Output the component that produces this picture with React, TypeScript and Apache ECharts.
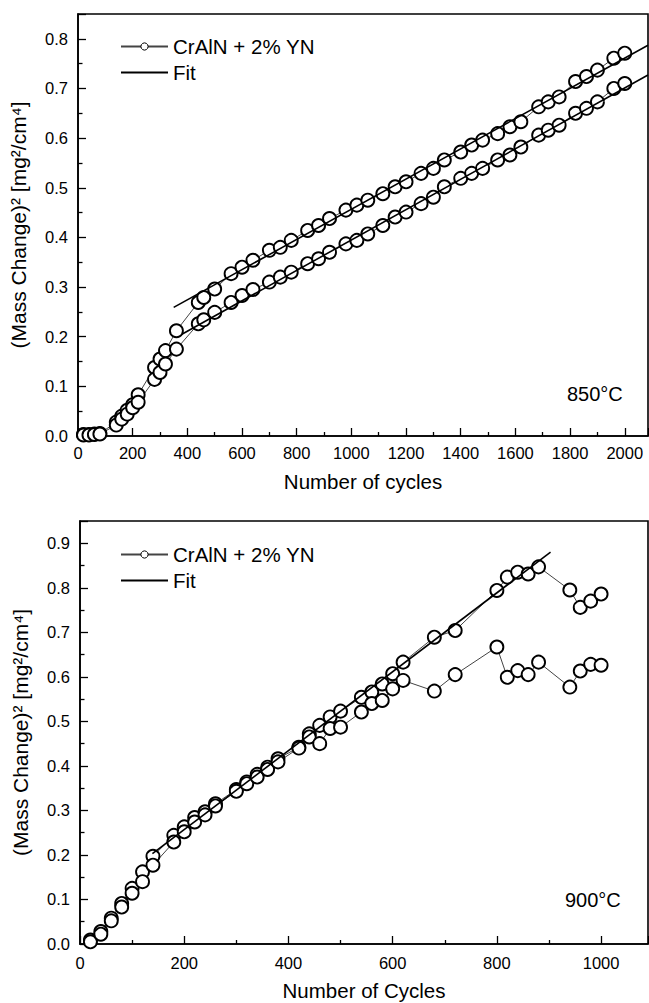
import React, { useEffect, useRef } from 'react';
import * as echarts from 'echarts';

const FONT = '"Liberation Sans", Arial, Helvetica, sans-serif';
const DATA_NAME = 'CrAlN + 2% YN';
const FIT_NAME = 'Fit';

// 850 °C panel
const topCycles = [20, 40, 60, 80, 140, 160, 180, 200, 220, 280, 300, 320, 360, 440, 460, 500, 560, 600, 640, 700, 740, 780, 840, 880, 920, 980, 1020, 1060, 1115, 1160, 1200, 1255, 1300, 1340, 1400, 1440, 1480, 1535, 1580, 1620, 1685, 1720, 1760, 1820, 1860, 1900, 1960, 2000];
const topUpper = [0.003, 0.003, 0.004, 0.005, 0.028, 0.040, 0.052, 0.063, 0.083, 0.138, 0.155, 0.172, 0.212, 0.269, 0.279, 0.296, 0.327, 0.340, 0.354, 0.374, 0.380, 0.394, 0.414, 0.424, 0.438, 0.455, 0.465, 0.475, 0.488, 0.502, 0.512, 0.529, 0.539, 0.556, 0.572, 0.586, 0.596, 0.609, 0.623, 0.633, 0.663, 0.673, 0.683, 0.714, 0.724, 0.737, 0.761, 0.771];
const topLower = [0.002, 0.002, 0.003, 0.004, 0.022, 0.034, 0.044, 0.057, 0.068, 0.114, 0.128, 0.145, 0.175, 0.226, 0.234, 0.249, 0.269, 0.283, 0.295, 0.310, 0.320, 0.330, 0.347, 0.357, 0.370, 0.387, 0.394, 0.407, 0.424, 0.441, 0.451, 0.468, 0.481, 0.502, 0.519, 0.529, 0.539, 0.556, 0.566, 0.582, 0.606, 0.616, 0.626, 0.650, 0.660, 0.673, 0.700, 0.710];
const topFitUpper = [[350, 0.259], [2085, 0.787]];
const topFitLower = [[380, 0.205], [2085, 0.727]];

// 900 °C panel
const bottomCycles = [20, 40, 60, 80, 100, 120, 140, 180, 200, 220, 240, 260, 300, 320, 340, 360, 380, 420, 440, 460, 480, 500, 540, 560, 580, 600, 620, 680, 720, 800, 820, 840, 860, 880, 940, 960, 980, 1000];
const bottomUpper = [0.009, 0.028, 0.058, 0.091, 0.125, 0.162, 0.197, 0.244, 0.263, 0.284, 0.297, 0.315, 0.347, 0.364, 0.381, 0.397, 0.416, 0.442, 0.472, 0.491, 0.510, 0.523, 0.554, 0.566, 0.584, 0.607, 0.633, 0.689, 0.704, 0.794, 0.824, 0.835, 0.831, 0.847, 0.795, 0.756, 0.770, 0.786];
const bottomLower = [0.005, 0.022, 0.052, 0.083, 0.114, 0.140, 0.177, 0.229, 0.252, 0.274, 0.290, 0.310, 0.343, 0.360, 0.375, 0.392, 0.409, 0.440, 0.465, 0.450, 0.484, 0.487, 0.521, 0.540, 0.547, 0.573, 0.592, 0.568, 0.605, 0.667, 0.599, 0.614, 0.605, 0.633, 0.577, 0.613, 0.628, 0.626];
const bottomFit = [[139, 0.203], [903, 0.880]];

const zip = (xs: number[], ys: number[]) => xs.map((x, i) => [x, ys[i]]);

const dataSeries = (idx: number, xs: number[], ys: number[]) => ({
  type: 'line',
  name: DATA_NAME,
  xAxisIndex: idx,
  yAxisIndex: idx,
  data: zip(xs, ys),
  symbol: 'circle',
  symbolSize: 13,
  showAllSymbol: true,
  itemStyle: { color: '#fff', borderColor: '#000', borderWidth: 1.9 },
  lineStyle: { color: '#444', width: 1 },
  emphasis: { disabled: true },
  clip: false,
  z: 2,
});

const fitSeries = (idx: number, pts: number[][]) => ({
  type: 'line',
  name: FIT_NAME,
  xAxisIndex: idx,
  yAxisIndex: idx,
  data: pts,
  symbol: 'none',
  itemStyle: { color: '#000' },
  lineStyle: { color: '#000', width: 1.6 },
  emphasis: { disabled: true },
  z: 3,
});

const xAxisCfg = (idx: number, max: number, name: string, labelMargin: number, nameGap: number) => ({
  type: 'value',
  gridIndex: idx,
  min: 0,
  max,
  interval: 200,
  name,
  nameLocation: 'middle',
  nameGap,
  nameTextStyle: { fontFamily: FONT, fontSize: 20.5, color: '#000' },
  axisLine: { show: true, onZero: false, lineStyle: { color: '#000', width: 1.6 } },
  axisTick: { show: true, inside: true, length: 8, lineStyle: { color: '#000', width: 1.3 } },
  minorTick: { show: true, splitNumber: 2, length: 4, lineStyle: { color: '#000', width: 1.3 } },
  splitLine: { show: false },
  minorSplitLine: { show: false },
  axisLabel: {
    fontFamily: FONT, fontSize: 16.5, color: '#000', margin: labelMargin,
    showMaxLabel: false, formatter: (v: number) => String(Math.round(v)),
  },
});

const yAxisCfg = (idx: number, max: number) => ({
  type: 'value',
  gridIndex: idx,
  min: 0,
  max,
  interval: 0.1,
  name: '(Mass Change)\u00B2 [mg\u00B2/cm\u2074]',
  nameLocation: 'middle',
  nameGap: 49,
  nameTextStyle: { fontFamily: FONT, fontSize: 21, color: '#000' },
  axisLine: { show: true, onZero: false, lineStyle: { color: '#000', width: 1.6 } },
  axisTick: { show: true, inside: true, length: 8, lineStyle: { color: '#000', width: 1.3 } },
  minorTick: { show: true, splitNumber: 2, length: 4.5, lineStyle: { color: '#000', width: 1.3 } },
  splitLine: { show: false },
  minorSplitLine: { show: false },
  axisLabel: {
    fontFamily: FONT, fontSize: 16.5, color: '#000', margin: 10,
    showMaxLabel: false, formatter: (v: number) => v.toFixed(1),
  },
});

const legendCfg = (top: number) => ({
  show: true,
  orient: 'vertical',
  left: 115,
  top,
  itemWidth: 47,
  itemHeight: 9,
  itemGap: 5,
  data: [
    { name: DATA_NAME, itemStyle: { color: '#fff', borderColor: '#000', borderWidth: 1 } },
    { name: FIT_NAME, itemStyle: { color: 'transparent', borderColor: 'transparent', borderWidth: 0, opacity: 0 } },
  ],
  textStyle: { fontFamily: FONT, fontSize: 20.5, color: '#000', lineHeight: 20 },
  selectedMode: false,
});

export default function App() {
  const ref = useRef<HTMLDivElement>(null);

  useEffect(() => {
    document.body.style.margin = '0';
    if (!ref.current) return;
    const chart = echarts.init(ref.current, undefined, { renderer: 'svg' });
    const option: any = {
      animation: false,
      backgroundColor: '#fff',
      grid: [
        { left: 78, top: 14, width: 570, height: 422, show: true, borderColor: '#000', borderWidth: 1.6, containLabel: false, outerBoundsMode: 'none' },
        { left: 80, top: 521, width: 568, height: 423, show: true, borderColor: '#000', borderWidth: 1.6, containLabel: false, outerBoundsMode: 'none' },
      ],
      xAxis: [
        xAxisCfg(0, 2085, 'Number of cycles', 8, 35),
        xAxisCfg(1, 1090, 'Number of Cycles', 10, 36),
      ],
      yAxis: [yAxisCfg(0, 0.85), yAxisCfg(1, 0.95)],
      legend: [legendCfg(31), legendCfg(539)],
      series: [
        dataSeries(0, topCycles, topUpper),
        dataSeries(0, topCycles, topLower),
        fitSeries(0, topFitUpper),
        fitSeries(0, topFitLower),
        dataSeries(1, bottomCycles, bottomUpper),
        dataSeries(1, bottomCycles, bottomLower),
        fitSeries(1, bottomFit),
      ],
      graphic: [
        { type: 'text', left: 567, top: 384, style: { text: '850\u00B0C', fontFamily: FONT, fontSize: 20, fill: '#000' } },
        { type: 'text', left: 565, top: 890, style: { text: '900\u00B0C', fontFamily: FONT, fontSize: 20, fill: '#000' } },
      ],
    };
    chart.setOption(option);
    return () => chart.dispose();
  }, []);

  return <div ref={ref} style={{ width: 649, height: 1003, overflow: 'hidden' }} />;
}
